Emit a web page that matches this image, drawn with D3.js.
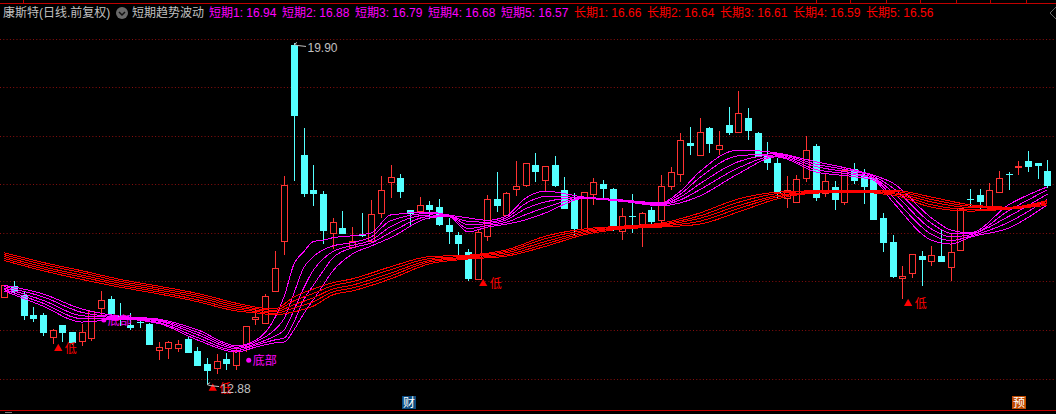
<!DOCTYPE html>
<html><head><meta charset="utf-8">
<script src="https://cdn.jsdelivr.net/npm/d3@7/dist/d3.min.js"></script>
<style>
html,body{margin:0;padding:0;background:#000;overflow:hidden}
svg{display:block}
text{font-family:"Liberation Sans","Noto Sans CJK SC",sans-serif;font-size:12px}
</style></head><body>
<svg id="c" width="1056" height="414"></svg>
<script>
const opens=[14.67,14.90,14.71,14.30,14.30,13.85,14.09,13.94,13.75,13.83,14.43,14.62,14.27,14.09,14.15,14.11,13.58,13.61,13.62,13.80,13.55,13.28,13.20,13.39,13.27,13.63,14.22,14.12,14.80,15.83,19.87,17.60,16.88,16.79,15.98,16.09,15.70,15.94,15.83,16.41,17.03,17.12,16.46,16.44,16.57,16.53,16.15,15.94,15.60,15.04,15.93,16.68,16.35,16.90,16.98,17.39,17.09,17.39,16.88,16.67,16.05,16.79,17.00,16.90,16.03,16.34,16.17,16.46,16.26,16.96,17.21,17.85,17.60,18.15,17.72,18.22,18.08,18.36,18.05,17.58,17.43,16.71,16.63,17.13,17.78,16.81,16.94,16.63,17.31,17.18,17.12,16.30,15.80,15.05,15.17,15.51,15.40,15.51,15.29,15.64,16.69,16.77,16.55,16.84,17.21,17.34,17.47,17.43,17.27];
const closes=[14.91,14.76,14.27,14.21,13.93,13.99,13.93,13.72,13.94,14.37,14.60,14.32,14.25,14.03,14.13,13.68,13.63,13.73,13.69,13.51,13.24,13.14,13.34,13.28,13.55,14.06,14.25,14.68,15.26,16.98,18.41,16.79,16.79,16.03,16.21,15.97,15.82,15.92,16.37,16.87,17.14,16.83,16.38,16.56,16.46,16.15,16.01,15.76,15.04,16.01,16.68,16.54,16.81,16.95,17.43,17.25,17.37,16.96,16.48,16.07,16.83,17.05,16.90,16.07,16.33,16.32,16.40,16.22,16.96,17.25,17.91,17.78,18.07,17.82,17.80,18.05,18.46,18.09,17.56,17.43,16.79,16.88,17.10,17.71,16.71,17.06,16.67,17.29,17.06,16.94,16.26,15.78,15.08,15.10,15.55,15.43,15.53,15.39,15.59,16.50,16.68,16.63,16.87,17.12,17.20,17.37,17.35,17.37,16.96];
const highs=[14.91,14.99,14.78,14.45,14.33,14.00,14.09,13.94,14.11,14.38,14.80,14.68,14.54,14.33,14.23,14.12,13.74,13.75,13.78,13.85,13.63,13.41,13.48,13.52,13.63,14.06,14.45,14.72,15.62,17.16,19.90,18.16,17.39,16.85,16.29,16.44,16.11,16.40,16.67,17.16,17.39,17.21,16.46,16.73,16.65,16.69,16.30,16.01,15.65,16.07,16.77,17.25,16.83,17.47,17.43,17.64,17.37,17.58,17.14,16.81,16.83,17.12,17.08,16.92,16.50,16.79,16.42,16.52,17.18,17.35,18.05,18.18,18.36,18.18,18.09,18.59,18.92,18.57,18.07,17.87,17.54,17.16,17.18,17.99,17.82,17.21,17.06,17.34,17.43,17.31,17.13,16.40,15.95,15.31,15.55,15.62,15.72,16.05,15.97,16.50,16.90,16.90,17.02,17.27,17.25,17.47,17.68,17.43,17.49];
const lows=[14.67,14.75,14.19,14.15,13.86,13.70,13.74,13.68,13.66,13.76,14.25,14.23,14.07,13.99,14.03,13.68,13.37,13.39,13.53,13.51,13.24,12.88,13.08,13.17,13.16,13.53,14.09,14.11,14.79,15.53,17.07,16.73,16.55,15.76,15.65,15.97,15.70,15.91,15.81,16.30,16.72,16.72,16.13,16.40,16.28,16.13,15.76,15.43,15.00,15.04,15.82,16.42,16.34,16.75,16.94,17.04,16.85,16.94,16.48,15.93,16.01,16.57,16.67,16.03,15.84,15.99,15.70,16.17,16.09,16.88,17.04,17.60,17.60,17.64,17.60,18.02,18.07,17.91,17.56,17.29,16.69,16.50,16.63,17.03,16.65,16.73,16.46,16.57,17.00,16.59,16.26,15.60,15.06,14.63,15.06,14.89,15.31,15.39,15.00,15.62,16.50,16.48,16.48,16.83,16.88,17.19,17.25,17.10,16.92];

const shortDays=[0,4,8,12,16,20,24,26,28,29,30,31,32,33,34,36,38,40,44,46,48,50,52,54,56,60,64,68,70,72,76,80,84,88,90,92,96,98,100,104,108];
const short1=[14.91,14.73,14.42,14.27,14.21,13.99,13.66,13.77,14.23,14.69,15.35,15.60,15.81,15.84,15.89,15.93,15.99,16.36,16.42,16.36,16.30,16.25,16.34,16.71,16.85,16.73,16.67,16.61,16.85,17.25,17.70,17.64,17.46,17.29,17.18,17.02,16.30,16.05,15.99,16.57,16.94];
const short2=[14.88,14.67,14.35,14.25,14.19,13.94,13.63,13.74,13.99,14.23,14.75,15.27,15.50,15.64,15.72,15.79,15.91,16.24,16.39,16.35,16.23,16.21,16.30,16.60,16.74,16.72,16.66,16.60,16.79,17.13,17.58,17.62,17.41,17.26,17.16,16.92,16.19,15.98,15.97,16.45,16.88];
const short3=[14.85,14.60,14.28,14.24,14.17,13.89,13.60,13.70,13.86,13.99,14.40,14.85,15.22,15.45,15.60,15.73,15.84,16.12,16.36,16.35,16.16,16.18,16.26,16.49,16.63,16.72,16.66,16.58,16.73,17.00,17.46,17.60,17.36,17.22,17.13,16.83,16.07,15.91,15.95,16.33,16.79];
const short4=[14.82,14.54,14.22,14.22,14.14,13.83,13.56,13.67,13.78,13.82,14.15,14.61,14.91,15.20,15.47,15.68,15.78,16.00,16.33,16.34,16.08,16.14,16.21,16.37,16.51,16.71,16.65,16.57,16.67,16.88,17.33,17.58,17.30,17.19,17.11,16.73,15.96,15.83,15.92,16.21,16.68];
const short5=[14.79,14.48,14.15,14.21,14.12,13.78,13.53,13.63,13.72,13.74,13.99,14.32,14.61,14.91,15.20,15.55,15.72,15.89,16.30,16.33,16.01,16.11,16.17,16.26,16.40,16.70,16.64,16.55,16.61,16.75,17.21,17.56,17.25,17.15,17.08,16.63,15.84,15.76,15.90,16.09,16.57];

const longDays=[0,4,8,12,16,20,24,26,28,30,32,34,36,40,44,48,52,56,60,64,68,72,76,80,84,88,92,96,100,104,108];
const long1=[15.58,15.38,15.21,15.03,14.89,14.74,14.54,14.46,14.42,14.67,14.83,14.96,15.04,15.29,15.50,15.53,15.64,15.92,16.07,16.13,16.19,16.40,16.69,16.83,16.86,16.87,16.87,16.73,16.57,16.52,16.66];
const long2=[15.54,15.34,15.17,14.99,14.85,14.70,14.50,14.43,14.39,14.59,14.74,14.90,14.98,15.23,15.46,15.51,15.61,15.87,16.04,16.12,16.17,16.34,16.62,16.80,16.85,16.86,16.85,16.68,16.54,16.51,16.64];
const long3=[15.50,15.29,15.12,14.95,14.81,14.66,14.46,14.40,14.36,14.51,14.65,14.83,14.91,15.16,15.42,15.49,15.58,15.81,16.01,16.10,16.15,16.29,16.55,16.76,16.83,16.85,16.82,16.63,16.51,16.50,16.61];
const long4=[15.46,15.25,15.08,14.91,14.77,14.61,14.42,14.37,14.33,14.44,14.57,14.77,14.85,15.10,15.39,15.47,15.54,15.76,15.98,16.09,16.13,16.23,16.49,16.73,16.82,16.84,16.80,16.57,16.47,16.49,16.59];
const long5=[15.42,15.21,15.03,14.87,14.73,14.57,14.38,14.34,14.30,14.36,14.48,14.71,14.79,15.04,15.35,15.45,15.51,15.71,15.95,16.07,16.11,16.17,16.42,16.69,16.81,16.83,16.77,16.52,16.44,16.48,16.56];

const gridPrices=[20.0,19.0,17.98,16.99,15.98,14.99,13.98,12.97];
const lowDays=[5,21,49,93];
const bottomDays=[10,25];
const bottomPrices=[14.19,13.36];
const extremeLabels=["19.90","12.88"];
const extremeDays=[30,21];
const extremePrices=[19.90,12.88];
const shortNames=["短期1","短期2","短期3","短期4","短期5"];
const shortLast=["16.94","16.88","16.79","16.68","16.57"];
const longNames=["长期1","长期2","长期3","长期4","长期5"];
const longLast=["16.66","16.64","16.61","16.59","16.56"];
const topTicks=[23,816,850,886,920,956,990,1026];

const RED="#ff3232",CYAN="#54ffff",MAG="#ff00ff",LINE="#ff0000",GREY="#c0c0c0",DARK="#c00000";
const svg=d3.select("#c");
const x=d3.scaleLinear().domain([0,108]).range([4.3,1047.3]);
const y=d3.scaleLinear().domain([20,13]).range([38.6,377.75]);
const px=v=>Math.round(v)+0.5;

// frame
svg.append("line").attr("x1",0).attr("x2",1056).attr("y1",3.5).attr("y2",3.5).attr("stroke",DARK);
svg.append("line").attr("x1",0).attr("x2",1056).attr("y1",410.5).attr("y2",410.5).attr("stroke",DARK);
svg.selectAll(".tt").data(topTicks).join("line").attr("x1",d=>d+.5).attr("x2",d=>d+.5).attr("y1",0).attr("y2",3).attr("stroke",DARK);
svg.append("line").attr("x1",5).attr("x2",12).attr("y1",412.5).attr("y2",412.5).attr("stroke","#777");

// grid
svg.selectAll(".g").data(gridPrices).join("line")
  .attr("x1",0).attr("x2",1056).attr("y1",d=>px(y(d))).attr("y2",d=>px(y(d)))
  .attr("stroke","#8a0f0f").attr("stroke-dasharray","1 2.3");

// candles
const cg=svg.append("g").attr("shape-rendering","crispEdges");
const days=d3.range(opens.length);
days.forEach(i=>{
  const up=closes[i]>=opens[i], col=up?RED:CYAN, cx=Math.round(x(i));
  const t=Math.round(y(Math.max(opens[i],closes[i]))), b=Math.round(y(Math.min(opens[i],closes[i])));
  cg.append("line").attr("x1",cx+.5).attr("x2",cx+.5).attr("y1",y(highs[i])).attr("y2",t).attr("stroke",col);
  cg.append("line").attr("x1",cx+.5).attr("x2",cx+.5).attr("y1",b).attr("y2",y(lows[i])).attr("stroke",col);
  if(up) cg.append("rect").attr("x",cx-3+.5).attr("y",t+.5).attr("width",6).attr("height",Math.max(b-t,1)).attr("fill","#000").attr("stroke",col);
  else cg.append("rect").attr("x",cx-3).attr("y",t).attr("width",7).attr("height",Math.max(b-t,1)).attr("fill",col);
});

// moving-average bundles
const path=(ds)=>d3.line().x((d,i)=>x(ds[i])).y(d=>y(d)).curve(d3.curveMonotoneX);
[short1,short2,short3,short4,short5].forEach(s=>svg.append("path").attr("d",path(shortDays)(s)).attr("fill","none").attr("stroke",MAG).attr("stroke-width",1).attr("shape-rendering","crispEdges"));
[long1,long2,long3,long4,long5].forEach(s=>svg.append("path").attr("d",path(longDays)(s)).attr("fill","none").attr("stroke",LINE).attr("stroke-width",1).attr("shape-rendering","crispEdges"));

// low markers
lowDays.forEach(d=>{
  const cx=x(d)+5.7, top=y(lows[d])+1;
  svg.append("path").attr("d",d3.symbol(d3.symbolTriangle,30)()).attr("transform",`translate(${cx},${top+3.8})`).attr("fill",LINE);
  svg.append("text").attr("x",cx+6.5).attr("y",top+8.5).attr("fill",LINE).text("低");
});
// bottom markers
bottomDays.forEach((d,k)=>{
  const cx=x(d)+3, cy=y(bottomPrices[k]);
  svg.append("circle").attr("cx",cx).attr("cy",cy).attr("r",2.5).attr("fill",MAG);
  svg.append("text").attr("x",cx+4).attr("y",cy+5).attr("fill",MAG).text("底部");
});
// extreme labels
extremeLabels.forEach((t,k)=>{
  const cx=x(extremeDays[k]), cy=y(extremePrices[k]);
  const g=svg.append("g");
  g.append("path").attr("d",`M${cx+3},${cy-1}L${cx},${cy+1}L${cx+3},${cy+2}L${cx+12},${cy+3}`).attr("fill","none").attr("stroke",GREY);
  g.append("text").attr("x",cx+13.5).attr("y",cy+9).attr("fill",GREY).text(t);
});

// legend
const legend=svg.append("g");
legend.append("text").attr("x",3).attr("y",17).attr("fill",GREY).text("康斯特(日线.前复权)");
legend.append("circle").attr("cx",122).attr("cy",13).attr("r",6).attr("fill","#6a6a6a");
legend.append("path").attr("d","M119,12L122,15L125,12").attr("fill","none").attr("stroke","#111").attr("stroke-width",1.5);
legend.append("text").attr("x",132).attr("y",17).attr("fill",GREY).text("短期趋势波动");
shortNames.forEach((n,k)=>legend.append("text").attr("x",209+73*k).attr("y",17).attr("fill",MAG).text(`${n}: ${shortLast[k]}`));
longNames.forEach((n,k)=>legend.append("text").attr("x",574+73*k).attr("y",17).attr("fill",LINE).text(`${n}: ${longLast[k]}`));

// corner widgets
svg.append("path").attr("d","M1056,7L1050,13L1056,19").attr("fill","none").attr("stroke","#666");

// event flags
const flag=(fx,bg,t)=>{
  svg.append("rect").attr("x",fx).attr("y",396).attr("width",14).attr("height",13).attr("fill",bg);
  svg.append("text").attr("x",fx+1).attr("y",407).attr("fill","#fff").text(t);
};
flag(402,"#0a4a80","财");
flag(1012,"#c04a00","预");
</script>
</body></html>
